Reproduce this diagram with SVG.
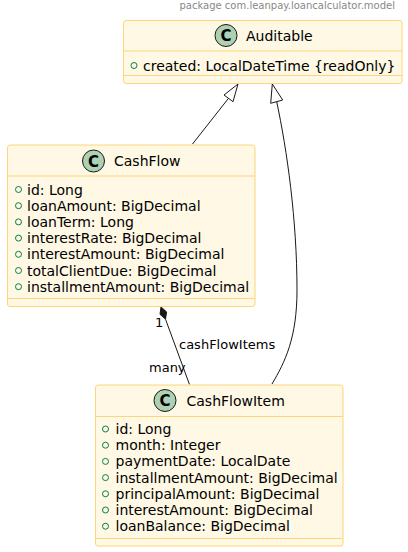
<svg xmlns="http://www.w3.org/2000/svg" width="408" height="552" viewBox="0 0 408 552">
<style>
text{font-family:"DejaVu Sans","Liberation Sans",sans-serif;fill:#000}
.box{fill:#FEF8E4;stroke:#FCD679;stroke-width:1}
.div{stroke:#FCD679;stroke-width:1}
.name{font-size:14px}
.attr{font-size:14px}
.lbl{font-size:13px}
.pkg{font-size:10px;fill:#888888}
.ic{fill:#ADD1B2;stroke:#181818;stroke-width:1}
.ct{font-size:15px;font-weight:bold;text-anchor:middle}
.vis{fill:none;stroke:#038048;stroke-width:1}
.edge{fill:none;stroke:#181818;stroke-width:1}
.tri{fill:#ffffff;stroke:#181818;stroke-width:1}
</style>
<rect width="408" height="552" fill="#ffffff"/>
<text class="pkg" x="395" y="9" text-anchor="end">package com.leanpay.loancalculator.model</text>

<g id="connectors">
<path class="edge" d="M192.5,144 L228.5,98.3"/>
<polygon class="tri" points="238,84 224,95 233,101.7"/>
<path class="edge" d="M272,384 C285,362 297,338 297,290 C297,220 287,150 276.7,101.7"/>
<polygon class="tri" points="272.3,84 270.7,103.3 282.7,100"/>
<path class="edge" d="M165.5,319.2 L189.5,384.5"/>
<polygon points="161,307 166.6,311.9 165.5,319.2 160,314.3" fill="#181818" stroke="#181818"/>
<text class="lbl" x="155" y="327">1</text>
<text class="lbl" x="179" y="349">cashFlowItems</text>
<text class="lbl" x="149" y="372">many</text>
</g>

<g id="Auditable">
<rect class="box" x="123.5" y="20.5" width="278.5" height="63" rx="2.5"/>
<line class="div" x1="123.5" y1="51" x2="402" y2="51"/>
<line class="div" x1="123.5" y1="75.5" x2="402" y2="75.5"/>
<circle class="ic" cx="226" cy="35.5" r="11"/>
<text class="ct" x="226" y="41">C</text>
<text class="name" x="246" y="40.5">Auditable</text>
<circle class="vis" cx="134" cy="65.5" r="3"/>
<text class="attr" x="143" y="70.5">created: LocalDateTime {readOnly}</text>
</g>

<g id="CashFlow">
<rect class="box" x="7.5" y="145" width="247.5" height="161.5" rx="2.5"/>
<line class="div" x1="7.5" y1="176" x2="255" y2="176"/>
<line class="div" x1="7.5" y1="298.5" x2="255" y2="298.5"/>
<circle class="ic" cx="93.5" cy="161" r="11"/>
<text class="ct" x="93.5" y="166.5">C</text>
<text class="name" x="114" y="166">CashFlow</text>
<g>
<circle class="vis" cx="18.5" cy="189.5" r="3"/>
<circle class="vis" cx="18.5" cy="205.7" r="3"/>
<circle class="vis" cx="18.5" cy="221.9" r="3"/>
<circle class="vis" cx="18.5" cy="238.1" r="3"/>
<circle class="vis" cx="18.5" cy="254.3" r="3"/>
<circle class="vis" cx="18.5" cy="270.5" r="3"/>
<circle class="vis" cx="18.5" cy="286.7" r="3"/>
</g>
<text class="attr" x="27" y="194.5">id: Long</text>
<text class="attr" x="27" y="210.7">loanAmount: BigDecimal</text>
<text class="attr" x="27" y="226.9">loanTerm: Long</text>
<text class="attr" x="27" y="243.1">interestRate: BigDecimal</text>
<text class="attr" x="27" y="259.3">interestAmount: BigDecimal</text>
<text class="attr" x="27" y="275.5">totalClientDue: BigDecimal</text>
<text class="attr" x="27" y="291.7">installmentAmount: BigDecimal</text>
</g>

<g id="CashFlowItem">
<rect class="box" x="95.5" y="385" width="247.5" height="161" rx="2.5"/>
<line class="div" x1="95.5" y1="416.5" x2="343" y2="416.5"/>
<line class="div" x1="95.5" y1="538.5" x2="343" y2="538.5"/>
<circle class="ic" cx="165" cy="400.5" r="11"/>
<text class="ct" x="165" y="406">C</text>
<text class="name" x="186.5" y="405.5">CashFlowItem</text>
<g>
<circle class="vis" cx="105.5" cy="429" r="3"/>
<circle class="vis" cx="105.5" cy="445.2" r="3"/>
<circle class="vis" cx="105.5" cy="461.4" r="3"/>
<circle class="vis" cx="105.5" cy="477.6" r="3"/>
<circle class="vis" cx="105.5" cy="493.8" r="3"/>
<circle class="vis" cx="105.5" cy="510" r="3"/>
<circle class="vis" cx="105.5" cy="526.2" r="3"/>
</g>
<text class="attr" x="115.5" y="434">id: Long</text>
<text class="attr" x="115.5" y="450.2">month: Integer</text>
<text class="attr" x="115.5" y="466.4">paymentDate: LocalDate</text>
<text class="attr" x="115.5" y="482.6">installmentAmount: BigDecimal</text>
<text class="attr" x="115.5" y="498.8">principalAmount: BigDecimal</text>
<text class="attr" x="115.5" y="515">interestAmount: BigDecimal</text>
<text class="attr" x="115.5" y="531.2">loanBalance: BigDecimal</text>
</g>
</svg>
